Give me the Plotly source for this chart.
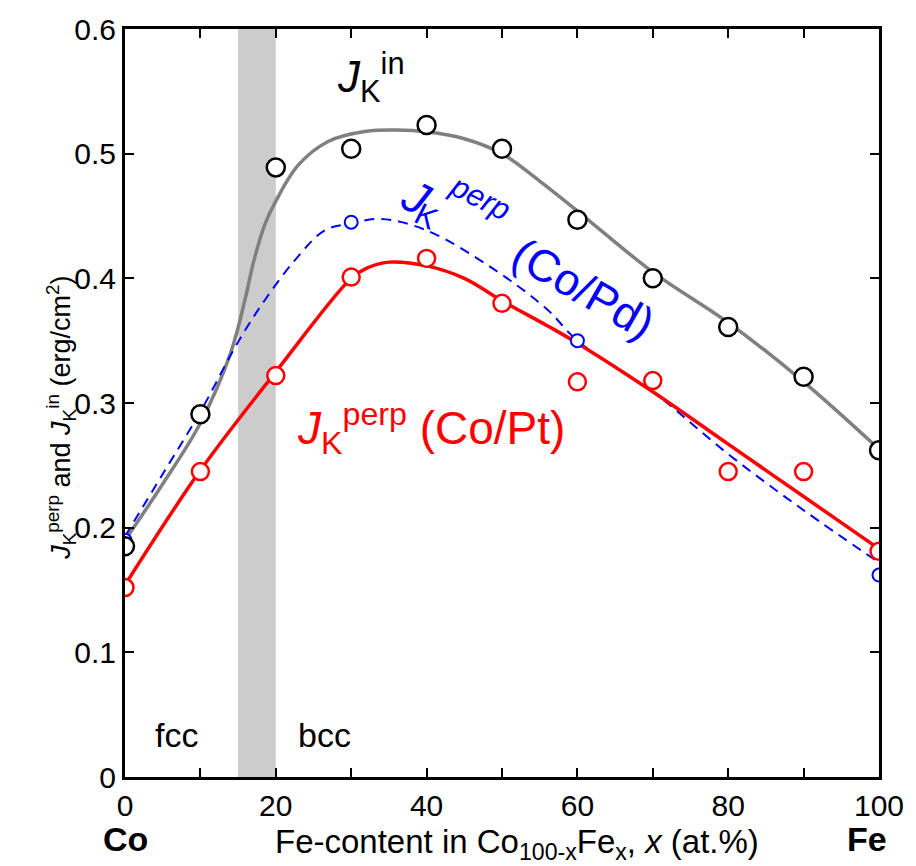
import plotly.graph_objects as go

# Measured anisotropy constants vs Fe content x (at.%) in Co(100-x)Fe(x)
x_meas = [0, 10, 20, 30, 40, 50, 60, 70, 80, 90, 100]
jk_in = [0.185, 0.291, 0.489, 0.504, 0.523, 0.504, 0.447, 0.400, 0.361, 0.321, 0.262]
jk_perp_pt = [0.152, 0.245, 0.322, 0.401, 0.416, 0.380, 0.317, 0.318, 0.245, 0.245, 0.181]

x_pd = [0, 30, 60, 100]
jk_perp_pd = [0.190, 0.445, 0.350, 0.162]

# Guide-to-the-eye curves
x_fit_in = [0, 5, 10, 14, 16, 17, 18.6, 20, 23, 27, 32, 36, 40, 45, 50, 55, 60, 70, 80, 90, 100]
fit_in = [0.190, 0.235, 0.284, 0.340, 0.385, 0.412, 0.444, 0.462, 0.491, 0.510, 0.518,
          0.519, 0.5175, 0.512, 0.500, 0.478, 0.454, 0.405, 0.3645, 0.317, 0.263]

x_fit_pt = [0, 10, 20, 30, 32, 35, 40, 45, 50, 56, 60, 70, 80, 90, 100]
fit_pt = [0.154, 0.246, 0.325, 0.400, 0.408, 0.413, 0.410, 0.400, 0.382, 0.362, 0.348,
          0.309, 0.267, 0.225, 0.183]

x_fit_pd = [0, 5, 10, 15, 18.6, 22.6, 26.5, 30, 34, 40, 49, 56, 60, 70, 80, 90, 100]
fit_pd = [0.193, 0.243, 0.293, 0.349, 0.383, 0.415, 0.4385, 0.444, 0.4476, 0.4385, 0.407,
          0.375, 0.350, 0.309, 0.259, 0.214, 0.172]

# fcc/bcc mixed-phase region
phase_boundary = [15, 20]

x_tickvals = [0, 10, 20, 30, 40, 50, 60, 70, 80, 90, 100]
x_ticktext = ["0", "", "20", "", "40", "", "60", "", "80", "", "100"]
y_tickvals = [0, 0.1, 0.2, 0.3, 0.4, 0.5, 0.6]
y_ticktext = ["0", "0.1", "0.2", "0.3", "0.4", "0.5", "0.6"]

FONT = "Liberation Sans, Arial, sans-serif"
BLUE = "#0000ff"
RED = "#ff0000"
GRAY = "#808080"

fig = go.Figure()

fig.add_trace(go.Scatter(x=x_fit_in, y=fit_in, mode="lines", line_shape="spline",
                         line=dict(color=GRAY, width=3.5), hoverinfo="skip"))
fig.add_trace(go.Scatter(x=x_fit_pd, y=fit_pd, mode="lines", line_shape="spline",
                         line=dict(color=BLUE, width=2, dash="10px,7px"), hoverinfo="skip"))
fig.add_trace(go.Scatter(x=x_fit_pt, y=fit_pt, mode="lines", line_shape="spline",
                         line=dict(color=RED, width=3.5), hoverinfo="skip"))

fig.add_trace(go.Scatter(x=x_pd, y=jk_perp_pd, mode="markers",
                         marker=dict(symbol="circle", size=13, color="white",
                                     line=dict(color=BLUE, width=2))))
fig.add_trace(go.Scatter(x=x_meas, y=jk_perp_pt, mode="markers",
                         marker=dict(symbol="circle", size=17, color="white",
                                     line=dict(color=RED, width=2.5))))
fig.add_trace(go.Scatter(x=x_meas, y=jk_in, mode="markers",
                         marker=dict(symbol="circle", size=18, color="white",
                                     line=dict(color="black", width=2.5))))

fig.add_shape(type="rect", xref="x", yref="paper",
              x0=phase_boundary[0], x1=phase_boundary[1], y0=0, y1=1,
              fillcolor="#cccccc", line=dict(width=0), layer="below")

annotations = [
    dict(x=32.6, y=0.561, text="<i>J</i><sub>K</sub><sup>in</sup>",
         font=dict(size=44, color="black")),
    dict(x=40.6, y=0.2795, text="<i>J</i><sub>K</sub><sup>perp</sup> (Co/Pt)",
         font=dict(size=46, color=RED)),
    # tilted Co/Pd label, built from its parts so that each piece follows the slope
    dict(x=38.6, y=0.4656, text="<i>J</i>", font=dict(size=46, color=BLUE), textangle=27),
    dict(x=40.0, y=0.4500, text="K", font=dict(size=31, color=BLUE), textangle=27),
    dict(x=47.1, y=0.4650, text="<i>perp</i>", font=dict(size=31, color=BLUE), textangle=27),
    dict(x=60.8, y=0.392, text="(Co/Pd)",
         font=dict(size=45, color=BLUE), textangle=30),
    dict(x=6.8, y=0.034, text="fcc", font=dict(size=34, color="black")),
    dict(x=26.4, y=0.034, text="bcc", font=dict(size=34, color="black")),
    dict(xref="paper", yref="paper", x=0.0, y=-0.083, text="<b>Co</b>",
         font=dict(size=34, color="black")),
    dict(xref="paper", yref="paper", x=0.984, y=-0.083, text="<b>Fe</b>",
         font=dict(size=34, color="black")),
    dict(xref="paper", yref="paper", x=0.52, y=-0.09,
         text="Fe-content in Co<sub>100-x</sub>Fe<sub>x</sub>, <i>x</i> (at.%)",
         font=dict(size=33, color="black")),
    dict(xref="paper", yref="paper", x=-0.085, y=0.48, textangle=-90,
         text="<i>J</i><sub>K</sub><sup>perp</sup> and <i>J</i><sub>K</sub><sup>in</sup> (erg/cm<sup>2</sup>)",
         font=dict(size=27, color="black")),
]
for a in annotations:
    a.setdefault("xref", "x")
    a.setdefault("yref", "y")
    a.update(showarrow=False, xanchor="center", yanchor="middle")
fig.update_layout(annotations=annotations)

axis_common = dict(showline=True, linecolor="black", linewidth=3, mirror="ticks",
                   ticks="inside", ticklen=9, tickwidth=2, tickcolor="black",
                   showgrid=False, zeroline=False,
                   tickfont=dict(size=30, color="black", family=FONT))

fig.update_xaxes(range=[0, 100], tickmode="array", tickvals=x_tickvals,
                 ticktext=x_ticktext, **axis_common)
fig.update_yaxes(range=[0, 0.6], tickmode="array", tickvals=y_tickvals,
                 ticktext=y_ticktext, **axis_common)

fig.update_layout(width=916, height=866, showlegend=False,
                  margin=dict(l=125, r=31, t=19, b=89),
                  plot_bgcolor="white", paper_bgcolor="white",
                  font=dict(family=FONT, color="black"))

fig.write_html("out.html")
